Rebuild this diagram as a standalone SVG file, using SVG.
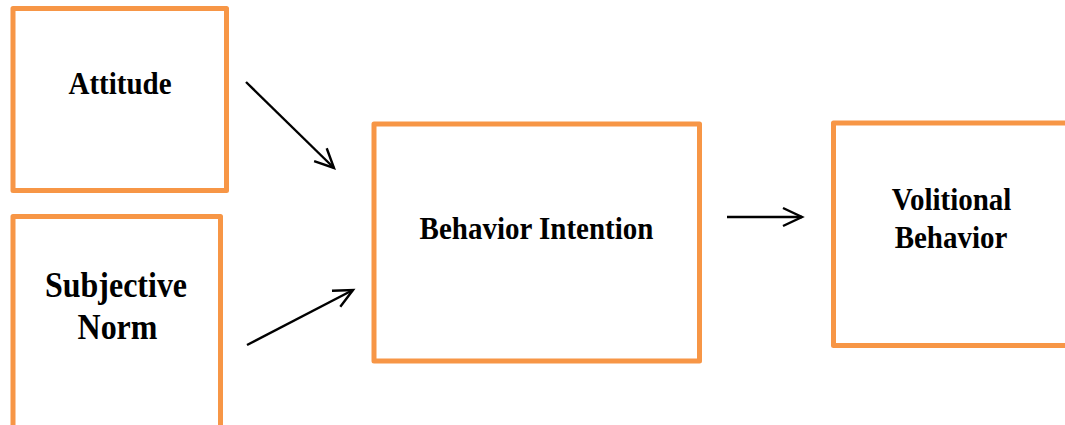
<svg xmlns="http://www.w3.org/2000/svg" width="1065" height="425" viewBox="0 0 1065 425">
<style>
.box{fill:#fff;stroke:#F79646;stroke-width:5;stroke-linejoin:round}
.lbl{font-family:"Liberation Serif","Times New Roman",serif;font-weight:bold;font-size:29px;fill:#000;text-anchor:middle}
.big{font-size:32px}
.conn{stroke:#000;stroke-width:2.4;fill:none}
</style>
<defs>
<marker id="arr" markerUnits="userSpaceOnUse" viewBox="-22 -12 26 24" refX="0" refY="0" markerWidth="26" markerHeight="24" orient="auto">
<path d="M-19,-9 L0,0 L-19,9" fill="none" stroke="#000" stroke-width="2.4" stroke-linejoin="miter"/>
</marker>
</defs>
<rect width="1065" height="425" fill="#fff"/>
<g id="attitude">
<rect class="box" x="13" y="8.5" width="213.5" height="182"/>
<text class="lbl" transform="translate(120 94) scale(1 1.1)">Attitude</text>
</g>
<g id="subjective-norm">
<rect class="box" x="13" y="216.5" width="207.5" height="220"/>
<text class="lbl big" transform="translate(116 297) scale(1 1.1)">Subjective</text>
<text class="lbl big" transform="translate(117.5 339) scale(1 1.1)">Norm</text>
</g>
<g id="behavior-intention">
<rect class="box" x="374" y="124" width="325.5" height="237"/>
<text class="lbl" transform="translate(536.5 239) scale(1 1.1)">Behavior Intention</text>
</g>
<g id="volitional-behavior">
<rect class="box" x="833.5" y="123" width="250" height="222.5"/>
<text class="lbl" transform="translate(951.5 210) scale(1 1.1)">Volitional</text>
<text class="lbl" transform="translate(951 248) scale(1 1.1)">Behavior</text>
</g>
<g id="connectors">
<line class="conn" x1="246" y1="82" x2="334" y2="168" marker-end="url(#arr)"/>
<line class="conn" x1="247" y1="345" x2="353" y2="290" marker-end="url(#arr)"/>
<line class="conn" x1="727" y1="217" x2="802" y2="217" marker-end="url(#arr)"/>
</g>
</svg>
